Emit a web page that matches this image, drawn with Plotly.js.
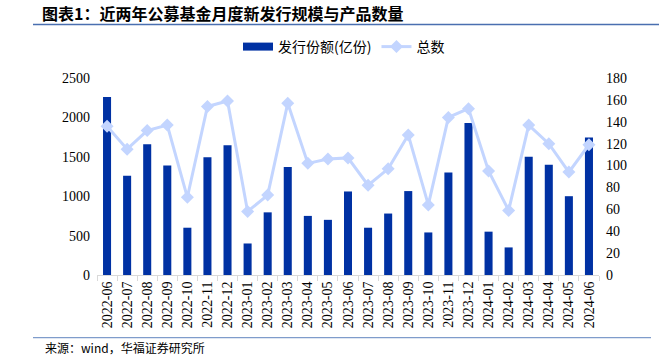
<!DOCTYPE html>
<html>
<head>
<meta charset="utf-8">
<script src="https://cdn.plot.ly/plotly-3.0.1.min.js"></script>
<style>
  html, body { margin: 0; padding: 0; background: #ffffff; }
  #chart { width: 659px; height: 355px; }
</style>
</head>
<body>
<div id="chart"></div>
<script>
const months = ["2022-06","2022-07","2022-08","2022-09","2022-10","2022-11","2022-12",
  "2023-01","2023-02","2023-03","2023-04","2023-05","2023-06","2023-07","2023-08",
  "2023-09","2023-10","2023-11","2023-12","2024-01","2024-02","2024-03","2024-04",
  "2024-05","2024-06"];
const issueShares = [2260, 1260, 1660, 1390, 600, 1495, 1645, 400, 795, 1370, 750, 700,
  1060, 600, 780, 1065, 540, 1300, 1930, 550, 350, 1500, 1400, 1000, 1745];
const fundCount = [136, 115, 132, 137, 71, 154, 159, 58, 73, 157, 102, 106, 107, 82, 97,
  128, 64, 144, 152, 95, 59, 137, 120, 94, 119];

const barName = "发行份额(亿份)";
const lineName = "总数";
const titleText = "图表1：近两年公募基金月度新发行规模与产品数量";
const sourceText = "来源：wind，华福证券研究所";

const barColor = "#0031A3";
const lineColor = "#C3D5FF";
const serif = "Times New Roman, Liberation Serif, DejaVu Serif, serif";
const cjk = "Noto Sans CJK SC";

const L = 97, R = 60, T = 78, B = 80;
const W = 659, H = 355;
const pw = W - L - R, ph = H - T - B;
const px = v => (v - L) / pw;
const py = v => (H - B - v) / ph;

const traces = [
  {
    type: "bar", x: months, y: issueShares, name: barName,
    marker: { color: barColor }, width: 0.4, showlegend: false, yaxis: "y",
    hoverinfo: "x+y"
  },
  {
    type: "scatter", mode: "lines", x: [months[0]], y: [null], name: barName,
    line: { color: barColor, width: 8 }, showlegend: true, hoverinfo: "skip"
  },
  {
    type: "scatter", mode: "lines+markers", x: months, y: fundCount, name: lineName,
    yaxis: "y2", line: { color: lineColor, width: 3 },
    marker: { symbol: "diamond", size: 10, color: lineColor }
  }
];

const layout = {
  width: W, height: H,
  margin: { l: L, r: R, t: T, b: B, autoexpand: false },
  paper_bgcolor: "#ffffff", plot_bgcolor: "#ffffff",
  font: { family: serif },
  title: {
    text: "<b>" + titleText + "</b>", xref: "container", yref: "container",
    x: 42 / W, xanchor: "left", y: 1 - 14 / H, yanchor: "middle",
    font: { family: cjk, size: 16, color: "#000000" }
  },
  showlegend: true,
  legend: {
    orientation: "h", x: px(344), xanchor: "center", y: py(47), yanchor: "middle",
    font: { family: cjk, size: 14, color: "#000000" }, traceorder: "normal",
    itemwidth: 30, bgcolor: "rgba(0,0,0,0)"
  },
  bargap: 0.6,
  xaxis: {
    type: "category", range: [-0.5, months.length - 0.5], autorange: false,
    tickangle: -90, ticks: "outside", ticklen: 5, automargin: false,
    tickcolor: "#d9d9d9", tickson: "boundaries", showline: true, linecolor: "#d9d9d9",
    showgrid: false, zeroline: false,
    tickfont: { family: serif, size: 14, color: "#000000" }
  },
  yaxis: {
    range: [0, 2500], dtick: 500, showgrid: false, zeroline: false, showline: false,
    ticks: "", automargin: false, tickfont: { family: serif, size: 14, color: "#000000" },
    ticklabelstandoff: 6
  },
  yaxis2: {
    range: [0, 180], dtick: 20, overlaying: "y", side: "right", showgrid: false,
    zeroline: false, showline: false, ticks: "", automargin: false,
    tickfont: { family: serif, size: 14, color: "#000000" },
    ticklabelstandoff: 6
  },
  shapes: [
    { type: "line", xref: "paper", yref: "paper", x0: px(33), x1: px(659), y0: py(24.5), y1: py(24.5),
      line: { color: "#4A6FB0", width: 1.3 } },
    { type: "line", xref: "paper", yref: "paper", x0: px(33), x1: px(651), y0: py(337.7), y1: py(337.7),
      line: { color: "#7F9CCB", width: 1.3 } }
  ],
  annotations: [
    { text: sourceText, xref: "paper", yref: "paper", x: px(43), y: py(347),
      xanchor: "left", yanchor: "middle", showarrow: false,
      font: { family: cjk, size: 12, color: "#000000" } }
  ]
};

Plotly.newPlot("chart", traces, layout, { displayModeBar: false, staticPlot: true });
</script>
</body>
</html>
